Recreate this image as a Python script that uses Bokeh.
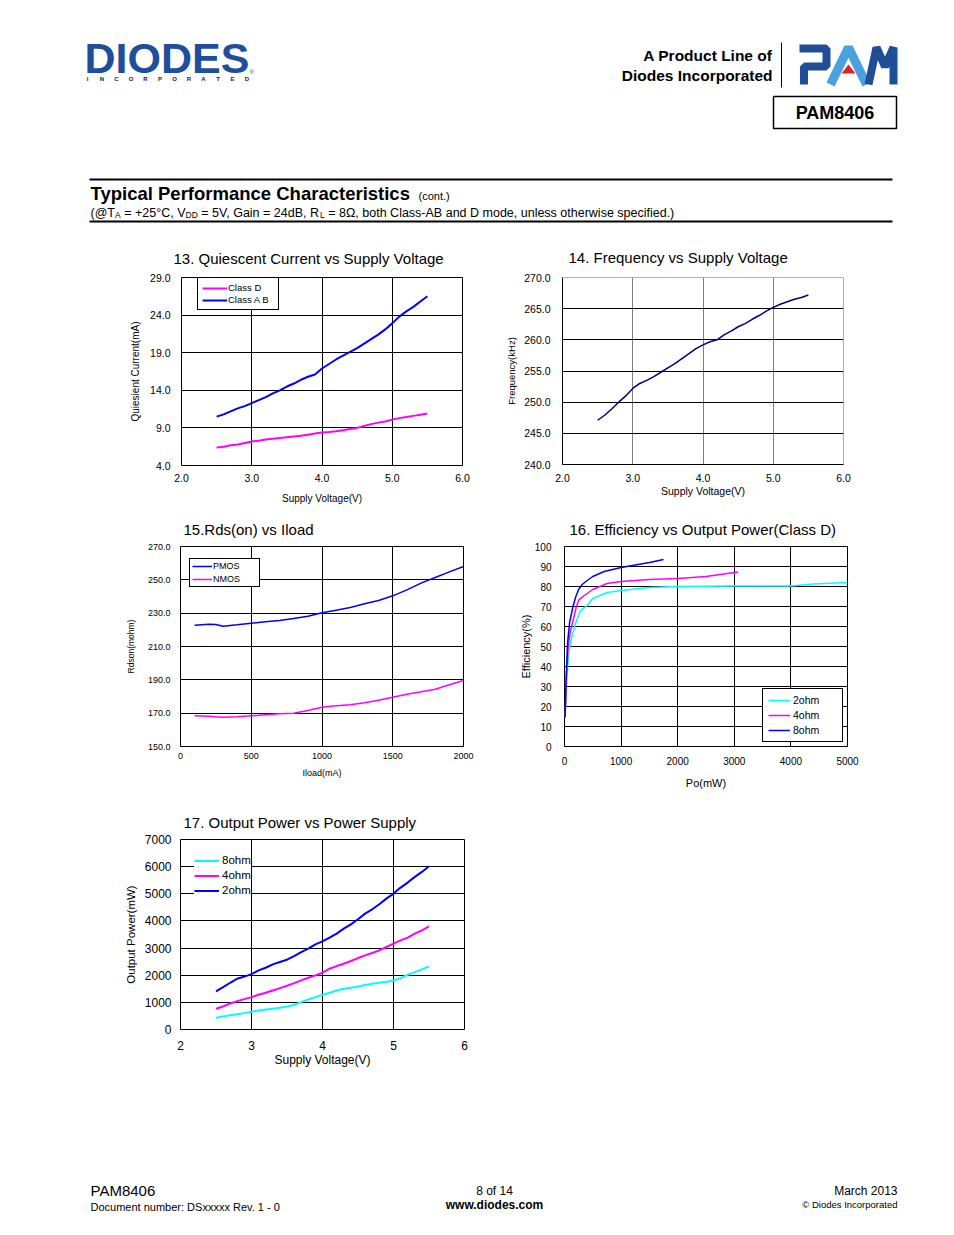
from bokeh.plotting import figure
from bokeh.layouts import column, row
from bokeh.models import Range1d, FixedTicker, Spacer
from bokeh.embed import file_html
from bokeh.resources import INLINE
from bokeh.core.properties import value

FONT = "Liberation Sans"

# ---------------- data ----------------
# 13. Quiescent Current vs Supply Voltage
q_volt = [2.5, 2.6, 2.7, 2.8, 2.9, 3.0, 3.1, 3.2, 3.3, 3.4, 3.5, 3.6, 3.7, 3.8, 3.9, 4.0,
          4.1, 4.2, 4.3, 4.4, 4.5, 4.6, 4.7, 4.8, 4.9, 5.0, 5.1, 5.2, 5.3, 5.4, 5.5]
q_class_d = [6.4, 6.5, 6.7, 6.8, 7.0, 7.2, 7.3, 7.45, 7.55, 7.65, 7.75, 7.85, 7.95, 8.1, 8.25, 8.4,
             8.45, 8.55, 8.7, 8.85, 9.0, 9.25, 9.5, 9.7, 9.85, 10.1, 10.3, 10.45, 10.6, 10.75, 10.9]
q_class_ab = [10.5, 10.8, 11.2, 11.6, 11.9, 12.3, 12.7, 13.1, 13.6, 14.0, 14.5, 14.9, 15.4, 15.8, 16.1, 16.9,
              17.5, 18.1, 18.6, 19.1, 19.6, 20.2, 20.8, 21.4, 22.1, 22.9, 23.8, 24.5, 25.1, 25.8, 26.5]
q_xticks = [2.0, 3.0, 4.0, 5.0, 6.0]
q_xlabels = ["2.0", "3.0", "4.0", "5.0", "6.0"]
q_yticks = [4.0, 9.0, 14.0, 19.0, 24.0, 29.0]
q_ylabels = ["4.0", "9.0", "14.0", "19.0", "24.0", "29.0"]

# 14. Frequency vs Supply Voltage
f_volt = [2.5, 2.6, 2.7, 2.8, 2.9, 3.0, 3.1, 3.2, 3.3, 3.4, 3.5, 3.6, 3.7, 3.8, 3.9, 4.0,
          4.1, 4.2, 4.3, 4.4, 4.5, 4.6, 4.7, 4.8, 4.9, 5.0, 5.1, 5.2, 5.3, 5.4, 5.5]
f_khz = [247.1, 247.9, 248.9, 250.0, 251.0, 252.2, 253.0, 253.5, 254.1, 254.8, 255.5, 256.2, 257.0, 257.8, 258.6, 259.2,
         259.7, 260.0, 260.8, 261.4, 262.1, 262.6, 263.3, 263.9, 264.6, 265.2, 265.7, 266.1, 266.5, 266.8, 267.2]
f_xticks = [2.0, 3.0, 4.0, 5.0, 6.0]
f_xlabels = ["2.0", "3.0", "4.0", "5.0", "6.0"]
f_yticks = [240.0, 245.0, 250.0, 255.0, 260.0, 265.0, 270.0]
f_ylabels = ["240.0", "245.0", "250.0", "255.0", "260.0", "265.0", "270.0"]

# 15. Rds(on) vs Iload
r_iload = [100, 200, 250, 300, 400, 500, 600, 700, 800, 900, 1000, 1100, 1200, 1300, 1400, 1500,
           1600, 1700, 1800, 1900, 2000]
r_pmos = [222.8, 223.4, 223.2, 222.2, 223.0, 224.0, 224.8, 225.6, 226.8, 228.2, 230.2, 231.8, 233.4, 235.6,
          237.6, 240.4, 244.0, 248.0, 251.4, 254.8, 258.0]
r_nmos = [168.4, 168.2, 167.8, 167.6, 167.8, 168.4, 169.0, 169.6, 170.0, 171.6, 173.6, 174.4, 175.0, 176.2,
          177.8, 179.6, 181.4, 182.8, 184.4, 187.0, 189.6]
r_xticks = [0, 500, 1000, 1500, 2000]
r_xlabels = ["0", "500", "1000", "1500", "2000"]
r_yticks = [150, 170, 190, 210, 230, 250, 270]
r_ylabels = ["150.0", "170.0", "190.0", "210.0", "230.0", "250.0", "270.0"]

# 16. Efficiency vs Output Power (Class D)
e_po_2ohm = [10, 40, 80, 130, 200, 280, 400, 500, 750, 1000, 1500, 2000, 3000, 4000, 4400, 5000]
e_2ohm = [15, 35, 48, 55, 62, 67.8, 70.5, 74, 77, 78, 79.5, 80, 80.2, 80.3, 81.3, 82]
e_po_4ohm = [10, 35, 65, 106, 160, 210, 254, 350, 500, 750, 1000, 1500, 2000, 2500, 3000, 3070]
e_4ohm = [15, 35, 50, 58, 64, 70, 73.3, 75.5, 78.5, 81.5, 82.5, 83.5, 84, 85, 87, 87.3]
e_po_8ohm = [10, 30, 55, 90, 150, 200, 250, 312, 400, 500, 700, 1000, 1200, 1500, 1750]
e_8ohm = [14.5, 35, 52, 62, 70, 75, 78.5, 81, 83, 85, 87.5, 89.5, 90.5, 92, 93.5]
e_xticks = [0, 1000, 2000, 3000, 4000, 5000]
e_xlabels = ["0", "1000", "2000", "3000", "4000", "5000"]
e_yticks = [0, 10, 20, 30, 40, 50, 60, 70, 80, 90, 100]
e_ylabels = ["0", "10", "20", "30", "40", "50", "60", "70", "80", "90", "100"]

# 17. Output Power vs Power Supply
o_volt = [2.5, 2.6, 2.7, 2.8, 2.9, 3.0, 3.1, 3.2, 3.3, 3.4, 3.5, 3.6, 3.7, 3.8, 3.9, 4.0,
          4.1, 4.2, 4.3, 4.4, 4.5, 4.6, 4.7, 4.8, 4.9, 5.0, 5.1, 5.2, 5.3, 5.4, 5.5]
o_8ohm = [431, 480, 529, 566, 603, 652, 701, 738, 763, 800, 849, 910, 1009, 1107, 1193, 1279,
          1353, 1439, 1501, 1538, 1587, 1636, 1685, 1722, 1759, 1808, 1894, 2017, 2116, 2214, 2325]
o_4ohm = [763, 849, 960, 1046, 1119, 1193, 1279, 1353, 1439, 1525, 1611, 1710, 1808, 1907, 1993, 2091,
          2239, 2337, 2423, 2522, 2632, 2731, 2817, 2915, 3039, 3162, 3285, 3383, 3531, 3654, 3801]
o_2ohm = [1402, 1560, 1722, 1870, 1950, 2040, 2177, 2276, 2399, 2485, 2571, 2706, 2854, 2977, 3137, 3248,
          3383, 3530, 3715, 3875, 4060, 4269, 4429, 4613, 4822, 5007, 5228, 5413, 5622, 5806, 6015]
o_xticks = [2, 3, 4, 5, 6]
o_xlabels = ["2", "3", "4", "5", "6"]
o_yticks = [0, 1000, 2000, 3000, 4000, 5000, 6000, 7000]
o_ylabels = ["0", "1000", "2000", "3000", "4000", "5000", "6000", "7000"]

MAGENTA = "#FF00FF"
BLUE = "#0000FF"
CYAN = "#00FFFF"
NAVY = "#000080"


def make_chart(cfg):
    p = figure(frame_width=cfg["fw"], frame_height=cfg["fh"],
               x_range=Range1d(*cfg["xr"]), y_range=Range1d(*cfg["yr"]),
               min_border_left=cfg["bl"], min_border_right=cfg["br"],
               min_border_top=cfg["bt"], min_border_bottom=cfg["bb"],
               output_backend="svg", toolbar_location=None,
               background_fill_color="white", border_fill_color="white")
    p.title.text = cfg["title"]
    p.title.align = "left"
    p.title.offset = cfg["toff"]
    p.title.standoff = cfg["tstand"]
    p.title.text_font = FONT
    p.title.text_font_size = "15px"
    p.title.text_font_style = "normal"
    p.title.text_color = "black"

    p.xaxis.ticker = FixedTicker(ticks=cfg["xticks"])
    p.xgrid.ticker = FixedTicker(ticks=cfg["xticks"])
    p.yaxis.ticker = FixedTicker(ticks=cfg["yticks"])
    p.ygrid.ticker = FixedTicker(ticks=cfg["yticks"])
    p.xaxis.major_label_overrides = {t: l for t, l in zip(cfg["xticks"], cfg["xlabels"])}
    p.yaxis.major_label_overrides = {t: l for t, l in zip(cfg["yticks"], cfg["ylabels"])}

    for ax in (p.xaxis, p.yaxis):
        ax.major_tick_line_color = None
        ax.minor_tick_line_color = None
        ax.major_tick_out = 0
        ax.major_tick_in = 0
        ax.axis_line_color = cfg.get("axis_line", None)
        ax.major_label_text_font = FONT
        ax.major_label_text_font_size = cfg["tickfs"]
        ax.major_label_text_color = "black"
        ax.axis_label_text_font = FONT
        ax.axis_label_text_font_style = "normal"
        ax.axis_label_text_color = "black"
    p.xaxis.axis_label = cfg["xtitle"]
    p.yaxis.axis_label = cfg["ytitle"]
    p.xaxis.axis_label_text_font_size = cfg["xtfs"]
    p.yaxis.axis_label_text_font_size = cfg["ytfs"]
    p.xaxis.major_label_standoff = cfg["xls"]
    p.yaxis.major_label_standoff = cfg["yls"]
    p.xaxis.axis_label_standoff = cfg["xts"]
    p.yaxis.axis_label_standoff = cfg["yts"]

    p.xgrid.grid_line_color = cfg["xgrid"]
    p.ygrid.grid_line_color = cfg["ygrid"]
    p.xgrid.grid_line_alpha = 1
    p.ygrid.grid_line_alpha = 1
    p.outline_line_color = cfg.get("outline", "black")
    p.outline_line_alpha = 1
    p.outline_line_width = 1
    return p


def style_legend(p, loc, fs, pad, spacing, lh, gw, standoff, lw, border=True):
    lg = p.legend[0]
    lg.location = loc
    lg.margin = 0
    lg.padding = pad
    lg.spacing = spacing
    lg.label_height = lh
    lg.glyph_height = lh
    lg.glyph_width = gw
    lg.label_standoff = standoff
    lg.label_width = lw
    lg.label_text_font = FONT
    lg.label_text_font_size = fs
    lg.label_text_color = "black"
    lg.label_text_baseline = "middle"
    lg.border_line_color = "black" if border else None
    lg.border_line_width = 1
    lg.border_line_alpha = 1
    lg.background_fill_color = "white"
    lg.background_fill_alpha = 1


# ---------- chart 13 ----------
p13 = make_chart(dict(fw=281, fh=188, xr=(2, 6), yr=(4, 29), bl=173, br=28, bt=44, bb=41,
                      title="13. Quiescent Current vs Supply Voltage", toff=-8, tstand=22,
                      xticks=q_xticks, xlabels=q_xlabels, yticks=q_yticks, ylabels=q_ylabels,
                      tickfs="10.5px", xtitle="Supply Voltage(V)", ytitle="Quiesient Current(mA)",
                      xtfs="10px", ytfs="10px", xls=8, yls=11, xts=8, yts=6,
                      xgrid="black", ygrid="black"))
p13.line(q_volt, q_class_d, line_color=MAGENTA, line_width=2, legend_label="Class D")
p13.line(q_volt, q_class_ab, line_color=BLUE, line_width=2, legend_label="Class A B")
style_legend(p13, (16, 155), "9.5px", 4, 1, 10, 25, 1, 46)

# ---------- chart 14 ----------
p14 = make_chart(dict(fw=281, fh=187, xr=(2, 6), yr=(240, 270), bl=72, br=103, bt=45, bb=41,
                      title="14. Frequency vs Supply Voltage", toff=6, tstand=24,
                      xticks=f_xticks, xlabels=f_xlabels, yticks=f_yticks, ylabels=f_ylabels,
                      tickfs="10.5px", xtitle="Supply Voltage(V)", ytitle="Frequency(kHz)",
                      xtfs="10.5px", ytfs="9.5px", xls=9, yls=12, xts=0, yts=4,
                      xgrid="#808080", ygrid="black", outline="#b0b0b0", axis_line="black"))
p14.line(f_volt, f_khz, line_color=NAVY, line_width=1.5)

# ---------- chart 15 ----------
p15 = make_chart(dict(fw=283, fh=200, xr=(0, 2000), yr=(150, 270), bl=172, br=27, bt=41, bb=54,
                      title="15.Rds(on) vs Iload", toff=3, tstand=18,
                      xticks=r_xticks, xlabels=r_xlabels, yticks=r_yticks, ylabels=r_ylabels,
                      tickfs="9px", xtitle="Iload(mA)", ytitle="Rdson(mohm)",
                      xtfs="9px", ytfs="8.5px", xls=6, yls=10, xts=6, yts=9,
                      xgrid="black", ygrid="black"))
p15.line(r_iload, r_pmos, line_color=BLUE, line_width=1.5, legend_label="PMOS")
p15.line(r_iload, r_nmos, line_color=MAGENTA, line_width=1.5, legend_label="NMOS")
style_legend(p15, (9, 159), "9px", 2, 3, 10, 20, 1, 44)

# ---------- chart 16 ----------
p16 = make_chart(dict(fw=283, fh=200, xr=(0, 5000), yr=(0, 100), bl=74, br=99, bt=41, bb=54,
                      title="16. Efficiency vs Output Power(Class D)", toff=5, tstand=18,
                      xticks=e_xticks, xlabels=e_xlabels, yticks=e_yticks, ylabels=e_ylabels,
                      tickfs="10px", xtitle="Po(mW)", ytitle="Efficiency(%)",
                      xtfs="11px", ytfs="11px", xls=10, yls=13, xts=9, yts=0,
                      xgrid="black", ygrid="black"))
p16.line(e_po_2ohm, e_2ohm, line_color=CYAN, line_width=1.5, legend_label="2ohm")
p16.line(e_po_4ohm, e_4ohm, line_color=MAGENTA, line_width=1.5, legend_label="4ohm")
p16.line(e_po_8ohm, e_8ohm, line_color=BLUE, line_width=1.5, legend_label="8ohm")
style_legend(p16, (198, 4), "10.5px", 5, 3, 10, 22, 3, 44)

# ---------- chart 17 ----------
p17 = make_chart(dict(fw=284, fh=190, xr=(2, 6), yr=(0, 7000), bl=172, br=26, bt=39, bb=46,
                      title="17. Output Power vs Power Supply", toff=3, tstand=18,
                      xticks=o_xticks, xlabels=o_xlabels, yticks=o_yticks, ylabels=o_ylabels,
                      tickfs="12px", xtitle="Supply Voltage(V)", ytitle="Output Power(mW)",
                      xtfs="12px", ytfs="11.5px", xls=11, yls=9, xts=0, yts=5,
                      xgrid="black", ygrid="black"))
p17.line(o_volt, o_8ohm, line_color=CYAN, line_width=2, legend_label="8ohm")
p17.line(o_volt, o_4ohm, line_color=MAGENTA, line_width=2, legend_label="4ohm")
p17.line(o_volt, o_2ohm, line_color=BLUE, line_width=2, legend_label="2ohm")
style_legend(p17, (14, 133), "11.5px", 5, 3, 11, 25, 3, 29, border=False)


# ---------- header (page decoration, pixel coordinates) ----------
def canvas(h, y0, y1):
    c = figure(width=938, height=h, x_range=Range1d(8, 946), y_range=Range1d(y1, y0),
               min_border=0, title=None, x_axis_location=None, y_axis_location=None,
               output_backend="svg", toolbar_location=None,
               background_fill_color="white", border_fill_color="white")
    c.grid.visible = False
    c.outline_line_color = None
    return c


def txt(c, x, y, s, size, align="left", bold=False, color="black"):
    c.text(x=[x], y=[y], text=[s], text_font=value(FONT), text_font_size=value(size),
           text_font_style="bold" if bold else "normal", text_align=align,
           text_baseline="middle", text_color=color)


hdr = canvas(224, 8, 232)
LOGO_BLUE = "#1E4F9C"
txt(hdr, 84, 57, "DIODES", "43px", bold=True, color=LOGO_BLUE)
letters = list("INCORPORATED")
hdr.text(x=[87 + i * 14.5 for i in range(len(letters))], y=[78.5] * len(letters), text=letters,
         text_font=value(FONT), text_font_size=value("6px"), text_font_style="bold",
         text_align="center", text_baseline="middle", text_color="#222222")
txt(hdr, 249, 71, "®", "6px", color=LOGO_BLUE)
txt(hdr, 772, 55, "A Product Line of", "15.5px", align="right", bold=True)
txt(hdr, 772, 75, "Diodes Incorporated", "15.5px", align="right", bold=True)
hdr.line([781, 781], [42, 87], line_color="black", line_width=1)
# PAM logo
hdr.line([803.5, 803.5, 826, 826, 799], [84, 66, 66, 48, 48], line_color="#1F4E96", line_width=8,
         line_join="bevel")
hdr.line([830, 848, 866], [84, 47, 84], line_color="#4BA0DE", line_width=9, line_join="bevel")
hdr.patch([848, 841, 855], [64, 73, 73], fill_color="#E31E24", line_color=None)
hdr.line([868, 876, 884.5, 893, 893], [84, 47, 66, 47, 84], line_color="#1F4E96", line_width=8,
         line_join="bevel")
# part number box
hdr.line([773, 896, 896, 773, 773], [96, 96, 128, 128, 96], line_color="black", line_width=1.5)
txt(hdr, 834.5, 112.5, "PAM8406", "18px", align="center", bold=True)
# section heading
hdr.line([89, 892], [179, 179], line_color="black", line_width=2)
txt(hdr, 90, 193, "Typical Performance Characteristics", "18.5px", bold=True)
txt(hdr, 418, 195, "(cont.)", "11px")
txt(hdr, 90, 212, "(@T", "12.5px")
txt(hdr, 114.5, 214.5, "A", "8.5px")
txt(hdr, 123.7, 212, "= +25°C, V", "12.5px")
txt(hdr, 185.0, 214.5, "DD", "8.5px")
txt(hdr, 200.8, 212, "= 5V, Gain = 24dB, R", "12.5px")
txt(hdr, 319.6, 214.5, "L", "8.5px")
txt(hdr, 327.8, 212, "= 8Ω, both Class-AB and D mode, unless otherwise specified.)", "12.5px")
hdr.line([89, 892], [221, 221], line_color="black", line_width=2)

# ---------- footer ----------
ftr = canvas(57, 1170, 1227)
txt(ftr, 90, 1190, "PAM8406", "15px")
txt(ftr, 90, 1206, "Document number: DSxxxxx Rev. 1 - 0", "11px")
txt(ftr, 494, 1190, "8 of 14", "12px", align="center")
txt(ftr, 494, 1204, "www.diodes.com", "12px", align="center", bold=True)
txt(ftr, 897, 1190, "March 2013", "12px", align="right")
txt(ftr, 897, 1204, "© Diodes Incorporated", "9.5px", align="right")

page = column(
    Spacer(width=938, height=8),
    hdr,
    row(p13, p14),
    row(p15, p16),
    row(p17, Spacer(width=456, height=275)),
    Spacer(width=938, height=95),
    ftr,
)
layout = row(Spacer(width=8, height=1227), page)

open("out.html", "w").write(file_html(layout, INLINE))
